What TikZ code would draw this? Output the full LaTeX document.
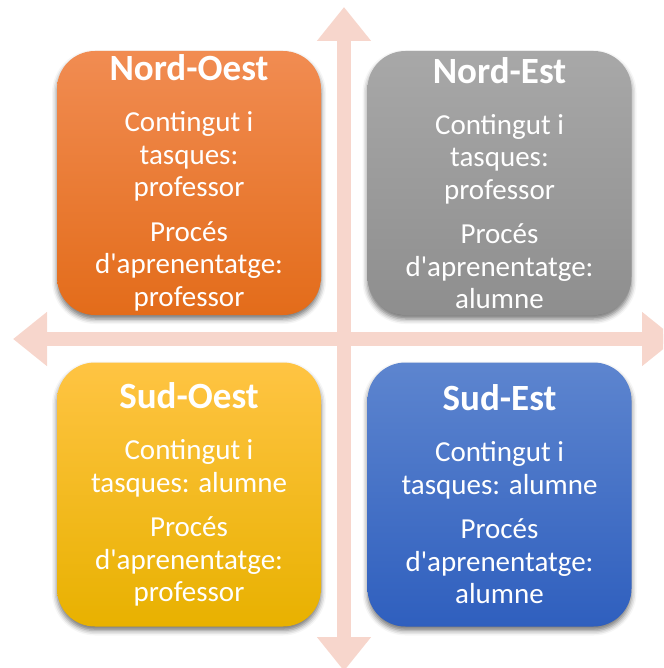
\documentclass[tikz,border=0pt]{standalone}
\usepackage{fontspec}
\newfontfamily\boxfont{Carlito}
\usetikzlibrary{arrows.meta,shadows.blur}
\definecolor{axiscol}{HTML}{F7D6CC}
\definecolor{orangeT}{HTML}{F18C52}
\definecolor{orangeM}{HTML}{F07C2A}
\definecolor{orangeB}{HTML}{E36C1A}
\definecolor{grayT}{HTML}{A8A8A8}
\definecolor{grayM}{HTML}{9D9D9D}
\definecolor{grayB}{HTML}{8E8E8E}
\definecolor{yellowT}{HTML}{FFC443}
\definecolor{yellowM}{HTML}{FFC000}
\definecolor{yellowB}{HTML}{E8B100}
\definecolor{blueT}{HTML}{5D85CF}
\definecolor{blueM}{HTML}{4471C8}
\definecolor{blueB}{HTML}{2F5FBE}
\tikzset{
  quadbox/.style={rounded corners=38pt, minimum width=264pt, minimum height=264pt,
    inner sep=0pt, align=center, text=white,
    font=\boxfont\fontsize{29}{32.5}\selectfont,
    blur shadow={shadow xshift=0pt, shadow yshift=-4pt, shadow blur radius=5pt, shadow opacity=55}},
  axisarrow/.style={draw=axiscol, line width=14pt,
    {Triangle[length=34pt,width=52pt,fill=axiscol]}-{Triangle[length=34pt,width=52pt,fill=axiscol]}}
}
\newcommand{\quadtitle}[1]{{\fontsize{37}{40}\selectfont\bfseries #1}}
\begin{document}
\begin{tikzpicture}[x=1pt,y=-1pt]
\useasboundingbox (0,0) rectangle (663,668);
\begin{scope}
\clip (0,0) rectangle (663,668);
\coordinate (vtop) at (344,7);
\coordinate (vbot) at (344,671);
\coordinate (hleft) at (13,339);
\coordinate (hright) at (676,339);
\draw[axisarrow] (vtop) -- (vbot);
\draw[axisarrow] (hleft) -- (hright);
\end{scope}
\node[quadbox, top color=orangeT, middle color=orangeM, bottom color=orangeB] (nw) at (189,183)
  {\quadtitle{Nord-Oest}\\[18.5pt]Contingut i\\tasques:\\professor\\[12pt]Procés\\d'aprenentatge:\\professor};
\node[quadbox, top color=grayT, middle color=grayM, bottom color=grayB] (ne) at (499.5,183)
  {\quadtitle{Nord-Est}\\[18.5pt]Contingut i\\tasques:\\professor\\[12pt]Procés\\d'aprenentatge:\\alumne};
\node[quadbox, top color=yellowT, middle color=yellowM, bottom color=yellowB] (sw) at (189,494.5)
  {\quadtitle{Sud-Oest}\\[18.5pt]Contingut i\\tasques: alumne\\[12pt]Procés\\d'aprenentatge:\\professor};
\node[quadbox, top color=blueT, middle color=blueM, bottom color=blueB] (se) at (499.5,494.5)
  {\quadtitle{Sud-Est}\\[18.5pt]Contingut i\\tasques: alumne\\[12pt]Procés\\d'aprenentatge:\\alumne};
\end{tikzpicture}
\end{document}
